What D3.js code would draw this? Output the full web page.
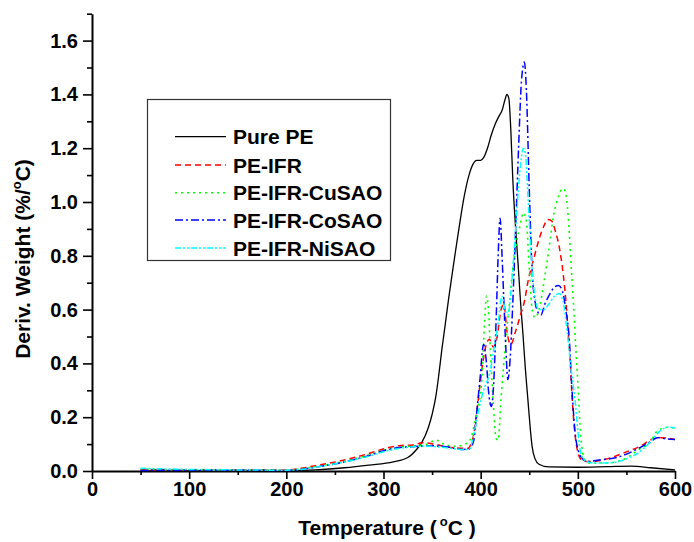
<!DOCTYPE html>
<html><head><meta charset="utf-8">
<script src="https://cdn.jsdelivr.net/npm/d3@7"></script>
<style>
body{margin:0;background:#fff;}
text{font-family:Arial,"Liberation Sans",sans-serif;font-weight:bold;fill:#000;}
</style></head>
<body><svg id="c" width="694" height="542"></svg>
<script>
// ---- data (Temperature °C, Deriv. Weight %/°C) ----
const seriesNames = ["Pure PE","PE-IFR","PE-IFR-CuSAO","PE-IFR-CoSAO","PE-IFR-NiSAO"];
const purePE = [[50,0],[100,0],[150,0],[200,0.001],[230,0.004],[260,0.012],[285,0.022],[310,0.034],[325,0.05],[334,0.08],[340,0.11],[346,0.16],[350,0.21],[354,0.28],[357,0.36],[360,0.45],[363,0.53],[367,0.64],[373,0.79],[378,0.91],[383,1.02],[388,1.1],[392,1.14],[396,1.155],[400,1.155],[403,1.165],[407,1.2],[411,1.25],[415,1.29],[419,1.32],[422,1.34],[425,1.38],[427,1.40],[429,1.385],[431,1.27],[433,1.09],[436,0.9],[438.5,0.77],[441,0.63],[443.5,0.51],[446,0.38],[448.5,0.27],[451,0.16],[453,0.09],[456,0.045],[460,0.025],[470,0.015],[500,0.014],[530,0.016],[555,0.018],[575,0.012],[600,0.004]];
const peIFR = [[50,0.005],[100,0.005],[150,0.005],[200,0.004],[215,0.01],[230,0.02],[255,0.037],[280,0.06],[303,0.085],[318,0.095],[330,0.097],[340,0.105],[352,0.1],[365,0.09],[378,0.085],[387,0.085],[390,0.1],[393,0.14],[397,0.25],[401,0.37],[405,0.46],[409,0.49],[413,0.46],[417,0.5],[421,0.6],[424,0.62],[427,0.52],[431,0.47],[436,0.52],[441,0.58],[445,0.63],[449,0.71],[454,0.78],[460,0.86],[465,0.91],[469,0.935],[473,0.93],[477,0.89],[481,0.83],[485,0.73],[488,0.62],[490,0.52],[492,0.42],[494,0.28],[497,0.14],[500,0.07],[504,0.04],[510,0.035],[520,0.037],[530,0.045],[547,0.067],[563,0.09],[578,0.12],[586,0.124],[600,0.117]];
const peCuSAO = [[50,0.008],[100,0.004],[150,0.004],[200,0.003],[215,0.008],[230,0.016],[255,0.032],[280,0.055],[303,0.08],[318,0.09],[330,0.093],[345,0.1],[354,0.115],[362,0.1],[374,0.092],[384,0.1],[389,0.115],[395,0.2],[401,0.33],[404,0.55],[406,0.65],[408,0.6],[410,0.45],[413,0.25],[416,0.12],[418,0.115],[421,0.27],[425,0.45],[429,0.6],[433,0.75],[437,0.85],[441,0.92],[444,0.96],[447,0.93],[450,0.75],[453,0.6],[456,0.57],[460,0.6],[465,0.7],[470,0.82],[475,0.95],[480,1.02],[484,1.05],[487,1.04],[490,0.95],[493,0.77],[496,0.59],[498,0.45],[500,0.33],[503,0.13],[507,0.043],[512,0.03],[530,0.03],[545,0.04],[563,0.08],[575,0.11],[582,0.15],[594,0.163],[600,0.157]];
const peCoSAO = [[50,0.002],[100,0.003],[150,0.003],[200,0.002],[215,0.006],[230,0.014],[255,0.03],[280,0.052],[303,0.078],[318,0.088],[330,0.09],[345,0.094],[355,0.093],[368,0.088],[380,0.08],[388,0.082],[391,0.095],[393,0.115],[396,0.22],[399,0.33],[403,0.47],[406,0.4],[408,0.3],[411,0.24],[413,0.3],[416,0.57],[418,0.8],[420,0.94],[422,0.8],[424,0.62],[426,0.45],[428,0.34],[430,0.4],[433,0.62],[436,0.9],[439,1.2],[442,1.45],[445,1.52],[447,1.42],[450,1.05],[453,0.74],[456,0.63],[459,0.59],[462,0.58],[466,0.62],[470,0.65],[475,0.68],[480,0.69],[484,0.67],[488,0.59],[491,0.5],[494,0.3],[497,0.15],[501,0.07],[505,0.045],[510,0.035],[520,0.04],[540,0.05],[563,0.085],[575,0.11],[582,0.124],[590,0.12],[600,0.117]];
const peNiSAO = [[50,0.01],[100,0.006],[150,0.004],[200,0.003],[215,0.006],[230,0.014],[255,0.03],[280,0.05],[303,0.074],[318,0.085],[330,0.09],[345,0.093],[355,0.09],[368,0.085],[380,0.08],[388,0.08],[392,0.12],[397,0.21],[403,0.3],[409,0.36],[413,0.44],[418,0.55],[422,0.65],[425,0.6],[428,0.58],[432,0.7],[436,0.9],[440,1.1],[444,1.2],[446,1.18],[449,1.0],[452,0.8],[455,0.67],[460,0.6],[465,0.6],[470,0.62],[476,0.65],[481,0.66],[485,0.63],[488,0.55],[491,0.45],[494,0.35],[497,0.27],[500,0.15],[503,0.067],[507,0.04],[515,0.03],[530,0.03],[550,0.045],[565,0.075],[575,0.11],[585,0.15],[593,0.163],[600,0.16]];
const xTicks = [0,100,200,300,400,500,600];
const xMinorTicks = [50,150,250,350,450,550];
const yTicks = [0,0.2,0.4,0.6,0.8,1.0,1.2,1.4,1.6];
const yMinorTicks = [0.1,0.3,0.5,0.7,0.9,1.1,1.3,1.5,1.7];

const allData = [purePE, peIFR, peCuSAO, peCoSAO, peNiSAO];
const colors = ["#000000","#ff0000","#00ff00","#0000ff","#00ffff"];
const dashes = [null,"6,4","2,4","8,3,2,3","6,2,2,2,2,2"];
const widths = [1.3,1.5,1.6,1.5,1.5];

const svg = d3.select("#c");
const x = d3.scaleLinear().domain([0,600]).range([92,675]);
const y = d3.scaleLinear().domain([0,1.7]).range([471,13.7]);

// axes
const gx = svg.append("g").attr("transform","translate(0,471)");
gx.call(d3.axisBottom(x).tickValues(xTicks).tickSize(8).tickSizeOuter(0).tickPadding(3).tickFormat(d3.format("d")));
svg.append("g").attr("transform","translate(0,471)")
  .call(d3.axisBottom(x).tickValues(xMinorTicks).tickSize(4).tickSizeOuter(0).tickFormat(""))
  .select(".domain").remove();
const gy = svg.append("g").attr("transform","translate(92,0)");
gy.call(d3.axisLeft(y).tickValues(yTicks).tickSize(9).tickSizeOuter(0).tickPadding(5).tickFormat(d3.format(".1f")));
svg.append("g").attr("transform","translate(92,0)")
  .call(d3.axisLeft(y).tickValues(yMinorTicks).tickSize(5).tickSizeOuter(0).tickFormat(""))
  .select(".domain").remove();
svg.selectAll(".domain").attr("stroke","#000").attr("stroke-width",2);
svg.selectAll(".tick line").attr("stroke","#000").attr("stroke-width",1.6);
svg.selectAll(".tick text").attr("font-size",20).attr("font-family","Arial, 'Liberation Sans', sans-serif").attr("font-weight","bold").attr("fill","#000");

// lines
const line = d3.line().x(d=>x(d[0])).y(d=>y(d[1])).curve(d3.curveMonotoneX);
allData.forEach((data,i)=>{
  svg.append("path").datum(data).attr("d",line)
    .attr("fill","none").attr("stroke",colors[i]).attr("stroke-width",widths[i])
    .attr("stroke-dasharray",dashes[i]);
});

// axis titles
const xt = svg.append("text").attr("x",387).attr("y",535).attr("text-anchor","middle").attr("font-size",21);
xt.append("tspan").text("Temperature (");
xt.append("tspan").attr("font-size",13).attr("dx",3).attr("dy",-9).text("o");
xt.append("tspan").attr("dy",9).text("C )");

const yt = svg.append("text").attr("transform","translate(30,259) rotate(-90)").attr("text-anchor","middle").attr("font-size",21);
yt.append("tspan").text("Deriv. Weight (%/");
yt.append("tspan").attr("font-size",13).attr("dy",-9).text("o");
yt.append("tspan").attr("dy",9).text("C)");

// legend
svg.append("rect").attr("x",147.5).attr("y",99.5).attr("width",243).attr("height",161)
  .attr("fill","#fff").attr("stroke","#333").attr("stroke-width",1.2);
const rowY = [136.7,165,192.7,220,248];
seriesNames.forEach((name,i)=>{
  svg.append("line").attr("x1",175).attr("x2",226).attr("y1",rowY[i]).attr("y2",rowY[i])
    .attr("stroke",colors[i]).attr("stroke-width",widths[i]).attr("stroke-dasharray",dashes[i]);
  svg.append("text").attr("x",233).attr("y",rowY[i]+7.5).attr("font-size",21).text(name);
});
</script></body></html>
